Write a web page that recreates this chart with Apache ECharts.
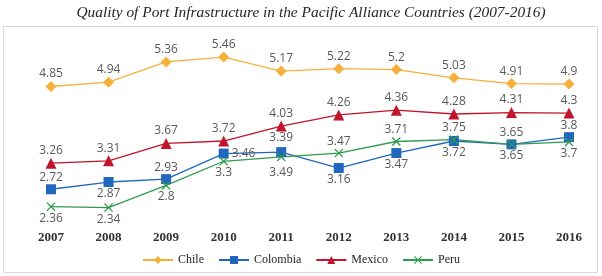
<!DOCTYPE html>
<html>
<head>
<meta charset="utf-8">
<script src="https://cdn.jsdelivr.net/npm/echarts@6/dist/echarts.min.js"></script>
<style>
  html, body { margin: 0; padding: 0; background: #fff; }
  #chart { width: 602px; height: 276px; }
</style>
</head>
<body>
<div id="chart"></div>
<script>
const years = ['2007', '2008', '2009', '2010', '2011', '2012', '2013', '2014', '2015', '2016'];
const seriesNames = ['Chile', 'Colombia', 'Mexico', 'Peru'];

const chile = [4.85, 4.94, 5.36, 5.46, 5.17, 5.22, 5.2, 5.03, 4.91, 4.9];
const colombia = [2.72, 2.87, 2.93, 3.46, 3.49, 3.16, 3.47, 3.72, 3.65, 3.8];
const mexico = [3.26, 3.31, 3.67, 3.72, 4.03, 4.26, 4.36, 4.28, 4.31, 4.3];
const peru = [2.36, 2.34, 2.8, 3.3, 3.39, 3.47, 3.71, 3.75, 3.65, 3.7];

// where each value label sits (placed by hand in the original)
const colombiaLabelPos = ['top', 'bottom', 'top', 'right', 'bottom', 'bottom', 'bottom', 'bottom', 'top', 'top'];
const colombiaLabelDist = [1, 1, 1, 3, 9, 1, 1, 1, 1, 1];
const peruLabelPos = ['bottom', 'bottom', 'bottom', 'bottom', 'top', 'top', 'top', 'top', 'bottom', 'bottom'];
const peruLabelDist = [1, 1, 1, 1, 9, 1, 1, 1, 1, 1];

const crossSymbol = 'path://M0,1L1,0L5,4L9,0L10,1L6,5L10,9L9,10L5,6L1,10L0,9L4,5Z';
const serif = 'Liberation Serif';

const labelStyle = {
  show: true,
  position: 'top',
  distance: 1,
  color: '#595959',
  fontFamily: 'Open Sans',
  fontSize: 12
};

function withLabels(values, positions, dists) {
  return values.map((v, i) => ({ value: v, label: { position: positions[i], distance: dists[i] } }));
}

function makeSeries(name, data, color, symbol, symbolSize) {
  return {
    type: 'line',
    name,
    data,
    symbol,
    symbolSize,
    lineStyle: { color, width: 1.3 },
    itemStyle: { color },
    label: labelStyle,
    animation: false
  };
}

const chart = echarts.init(document.getElementById('chart'));

chart.setOption({
  backgroundColor: '#fff',
  title: {
    text: 'Quality of Port Infrastructure in the Pacific Alliance Countries (2007-2016)',
    left: 306,
    textAlign: 'center',
    top: 0,
    textStyle: {
      fontFamily: serif,
      fontStyle: 'italic',
      fontWeight: 'normal',
      fontSize: 15.4,
      color: '#262626'
    }
  },
  graphic: [{
    type: 'rect',
    shape: { x: 3.5, y: 26.5, width: 594, height: 246 },
    style: { fill: 'none', stroke: '#d9d9d9', lineWidth: 1 },
    silent: true
  }],
  grid: { left: 51, right: 33, top: 31, bottom: 52 },
  xAxis: {
    type: 'category',
    data: years,
    boundaryGap: false,
    axisLine: { show: false },
    axisTick: { show: false },
    axisLabel: {
      margin: 7,
      color: '#333',
      fontFamily: serif,
      fontWeight: 'bold',
      fontSize: 13
    }
  },
  yAxis: {
    type: 'value',
    min: 2,
    max: 6,
    show: false,
    splitLine: { show: false }
  },
  legend: {
    bottom: 5,
    left: 'center',
    itemWidth: 30,
    itemHeight: 10,
    itemGap: 14,
    textStyle: { fontFamily: serif, fontSize: 12, color: '#262626' },
    data: seriesNames
  },
  series: [
    makeSeries(seriesNames[0], chile, '#f6b03a', 'diamond', 11),
    makeSeries(seriesNames[1], withLabels(colombia, colombiaLabelPos, colombiaLabelDist), '#2067bd', 'rect', 10),
    makeSeries(seriesNames[2], mexico, '#c0152b', 'triangle', 11),
    makeSeries(seriesNames[3], withLabels(peru, peruLabelPos, peruLabelDist), '#2f9b4f', crossSymbol, 9)
  ]
});
</script>
</body>
</html>
